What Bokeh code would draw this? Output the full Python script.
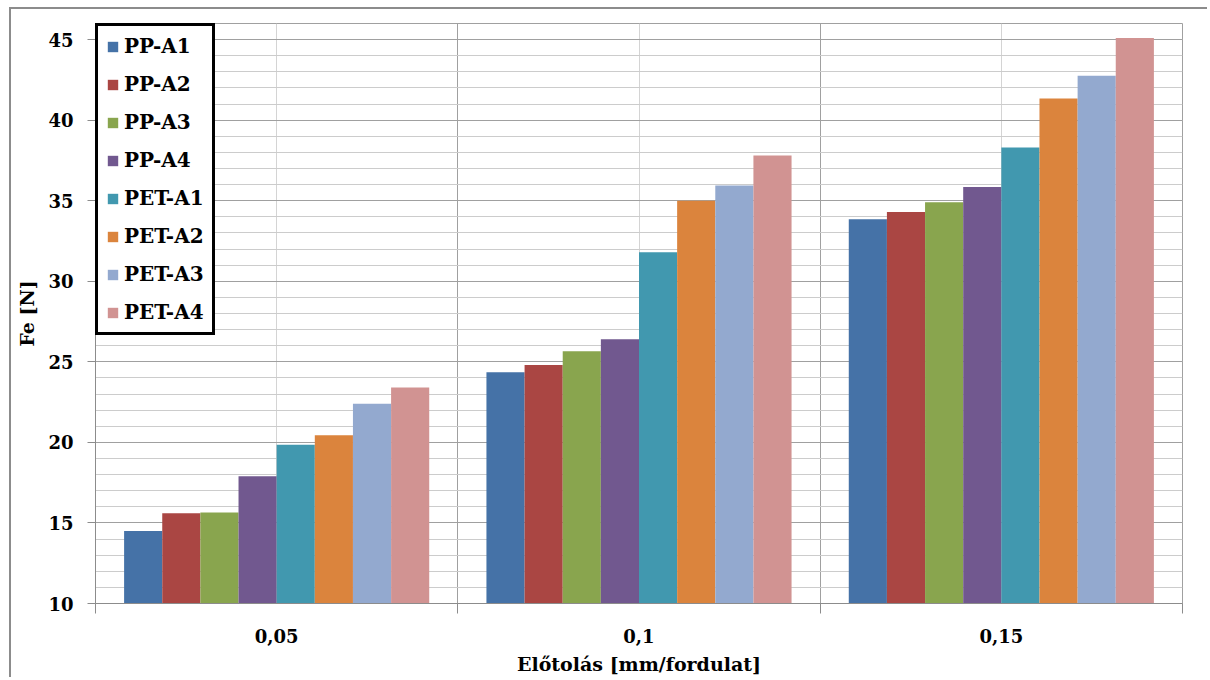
import numpy as np
from bokeh.plotting import figure
from bokeh.models import (ColumnDataSource, Range1d, FixedTicker, Legend, LegendItem)
from bokeh.embed import file_html
from bokeh.resources import INLINE

categories = ["0,05", "0,1", "0,15"]
series = ["PP-A1", "PP-A2", "PP-A3", "PP-A4", "PET-A1", "PET-A2", "PET-A3", "PET-A4"]
values = {
    "PP-A1":  [14.5, 24.35, 33.85],
    "PP-A2":  [15.6, 24.8, 34.3],
    "PP-A3":  [15.65, 25.65, 34.9],
    "PP-A4":  [17.9, 26.4, 35.85],
    "PET-A1": [19.85, 31.8, 38.3],
    "PET-A2": [20.45, 35.0, 41.35],
    "PET-A3": [22.4, 35.95, 42.75],
    "PET-A4": [23.4, 37.8, 45.1],
}
colors = ["#4572A7", "#AA4643", "#89A54E", "#71588F",
          "#4198AF", "#DB843D", "#93A9CF", "#D19392"]
y_ticks = [10, 15, 20, 25, 30, 35, 40, 45]

FONT = "DejaVu Serif"

p = figure(width=1198, height=670, output_backend="svg", toolbar_location=None,
           x_range=Range1d(0, len(categories)), y_range=Range1d(10, 46),
           min_border_left=84, min_border_top=14, min_border_right=27,
           min_border_bottom=76)
p.styles = {"margin-left": "9px", "margin-top": "7px",
            "border-left": "2px solid #8c8c8c", "border-top": "2px solid #8c8c8c"}

bar_w = 1 / 9.5
n = len(series)
renderers = []
for i, s in enumerate(series):
    x = np.arange(len(categories)) + 0.5 + (i - (n - 1) / 2) * bar_w
    src = ColumnDataSource(dict(x=x, top=values[s]))
    r = p.vbar(x="x", top="top", bottom=10, width=bar_w, source=src,
               fill_color=colors[i], line_color=None)
    renderers.append(r)

# axes
p.xaxis.ticker = FixedTicker(ticks=[0.5, 1.5, 2.5], minor_ticks=[0, 1, 2, 3])
p.xaxis.major_label_overrides = {0.5: categories[0], 1.5: categories[1], 2.5: categories[2]}
p.xaxis.major_tick_line_color = None
p.xaxis.minor_tick_line_color = "#8c8c8c"
p.xaxis.minor_tick_in = 0
p.xaxis.minor_tick_out = 10
p.xaxis.major_label_standoff = 15
p.xaxis.axis_label = "Előtolás [mm/fordulat]"
p.xaxis.axis_label_standoff = 7

p.yaxis.ticker = FixedTicker(ticks=y_ticks, minor_ticks=list(range(10, 47)))
p.yaxis.minor_tick_line_color = None
p.yaxis.major_tick_in = 0
p.yaxis.major_tick_out = 8
p.yaxis.major_tick_line_color = "#8c8c8c"
p.yaxis.major_label_standoff = 14
p.yaxis.axis_label = "Fe [N]"
p.yaxis.axis_label_standoff = 7

for ax in (p.xaxis[0], p.yaxis[0]):
    ax.axis_line_color = "#8c8c8c"
    ax.major_label_text_font = FONT
    ax.major_label_text_font_style = "bold"
    ax.major_label_text_font_size = "18px"
    ax.major_label_text_color = "black"
    ax.axis_label_text_font = FONT
    ax.axis_label_text_font_style = "bold"
    ax.axis_label_text_font_size = "19px"
    ax.axis_label_text_color = "black"

# grids
p.xgrid.ticker = FixedTicker(ticks=[0, 1, 2, 3], minor_ticks=[0.5, 1.5, 2.5])
p.xgrid.grid_line_color = "#a0a0a0"
p.xgrid.minor_grid_line_color = "#d4d4d4"
p.ygrid.grid_line_color = "#a0a0a0"
p.ygrid.minor_grid_line_color = "#cccccc"

p.outline_line_color = "#a0a0a0"
p.background_fill_color = "white"
p.border_fill_color = "white"

legend = Legend(items=[LegendItem(label=s, renderers=[r]) for s, r in zip(series, renderers)],
                location="top_left")
legend.margin = 0
legend.padding = 8
legend.spacing = 14
legend.label_height = 20
legend.glyph_height = 13
legend.glyph_width = 13
legend.label_standoff = 5
legend.label_text_font = FONT
legend.label_text_font_style = "bold"
legend.label_text_font_size = "20px"
legend.label_text_color = "black"
legend.border_line_color = "black"
legend.border_line_alpha = 1
legend.border_line_width = 3
legend.background_fill_color = "white"
legend.background_fill_alpha = 1
p.add_layout(legend)

open("out.html", "w").write(file_html(p, INLINE))
